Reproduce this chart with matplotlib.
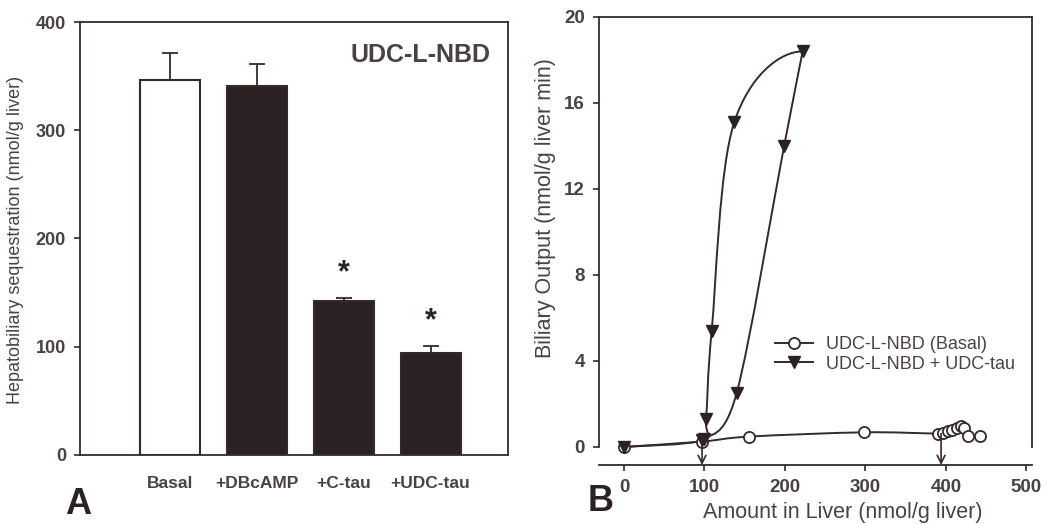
"""
Figura de dos paneles: secuestro hepatobiliar (A) y salida biliar (B)
"""

import numpy as np
import matplotlib
matplotlib.use('Agg')
import matplotlib.pyplot as plt
from matplotlib.path import Path
from matplotlib.patches import PathPatch
from matplotlib.lines import Line2D

plt.rcParams['font.family'] = ['Liberation Sans', 'DejaVu Sans']

# Panel A: barras
categorias = ['Basal', '+DBcAMP', '+C-tau', '+UDC-tau']
secuestro = [346, 341, 142, 94]
error_sec = [25, 20, 3, 7]
significativo = [False, False, True, True]

# Panel B: UDC-L-NBD basal (circulos abiertos)
amt_basal = [0, 97, 155, 298, 390, 396, 402, 408, 414, 419, 423, 427, 442]
out_basal = [0, 0.25, 0.48, 0.68, 0.62, 0.66, 0.72, 0.8, 0.9, 0.97, 0.9, 0.5, 0.5]

# Panel B: UDC-L-NBD + UDC-tau (triangulos), el bucle se parte en el maximo
amt_tau = [0, 97, 102, 109, 137, 222, 199, 140, 100]
out_tau = [0, 0.3, 1.3, 5.4, 15.1, 18.4, 14.0, 2.5, 0.35]

# flechas de inicio/fin de infusion
flechas_x = [97, 394]
flechas_y = [0.3, 0.62]

LINEA = '#342a2a'
TEXTO = '#4a4242'
OSCURO = '#2b2323'


def curva_suave(xs, ys, llegada_horizontal=False):
    """Path Catmull-Rom (como el spline de SigmaPlot) a traves de los puntos"""
    p = np.column_stack([xs, ys]).astype(float)
    ini = p[0]
    fin = p[-1]
    if llegada_horizontal:
        # punto fantasma para que la curva llegue plana al ultimo punto
        fin = np.array([2 * p[-1, 0] - p[-2, 0], p[-2, 1]])
    ext = np.vstack([ini, p, fin])
    verts = [p[0]]
    codes = [Path.MOVETO]
    for i in range(1, len(ext) - 2):
        p0, p1, p2, p3 = ext[i - 1], ext[i], ext[i + 1], ext[i + 2]
        verts += [p1 + (p2 - p0) / 6, p2 - (p3 - p1) / 6, p2]
        codes += [Path.CURVE4] * 3
    return Path(verts, codes)


def dibujar_curva(ax, xs, ys, **kw):
    ax.add_patch(PathPatch(curva_suave(xs, ys, **kw), fill=False, edgecolor=LINEA,
                           linewidth=1.4, zorder=2))


fig = plt.figure(figsize=(10.47, 5.24), dpi=100)

# ---------------- Panel A ----------------
ax_a = fig.add_axes([0.0764, 0.1317, 0.4088, 0.8263])
x = np.arange(len(categorias))
colores = ['white'] + [OSCURO] * (len(categorias) - 1)
ax_a.bar(x, secuestro, width=0.69, color=colores, edgecolor=LINEA, linewidth=1.5, zorder=2)
ax_a.errorbar(x, secuestro, yerr=[np.zeros(len(x)), error_sec], fmt='none',
              ecolor=LINEA, elinewidth=1.3, capsize=6, capthick=1.3, zorder=3)
for xi, v, e, sig in zip(x, secuestro, error_sec, significativo):
    if sig:
        ax_a.text(xi, v + e + 23, '*', ha='center', va='center', fontsize=22,
                  fontweight='bold', color=OSCURO)

ax_a.set_xlim(-1.03, 3.89)
ax_a.set_ylim(0, 400)
ax_a.set_yticks([0, 100, 200, 300, 400])
ax_a.set_xticks(x)
ax_a.set_xticklabels(categorias, fontsize=12.5, fontweight='bold', color=TEXTO)
ax_a.tick_params(axis='x', length=0, pad=15)
ax_a.tick_params(axis='y', direction='out', length=4, width=1.2, color=LINEA,
                 labelsize=13, labelcolor=TEXTO, pad=6)
for lbl in ax_a.get_yticklabels():
    lbl.set_fontweight('bold')
for s in ax_a.spines.values():
    s.set_color(LINEA)
    s.set_linewidth(1.3)
ax_a.set_ylabel('Hepatobiliary sequestration (nmol/g liver)', fontsize=13, color=TEXTO)
ax_a.yaxis.set_label_coords(-0.13, 0.497)
ax_a.text(0.958, 0.924, 'UDC-L-NBD', transform=ax_a.transAxes, ha='right', va='center',
          fontsize=18, fontweight='bold', color=TEXTO)

# ---------------- Panel B ----------------
ax_b = fig.add_axes([0.5721, 0.1126, 0.4136, 0.855])
dibujar_curva(ax_b, amt_basal, out_basal)
pico = int(np.argmax(out_tau))
dibujar_curva(ax_b, amt_tau[:pico + 1], out_tau[:pico + 1], llegada_horizontal=True)
dibujar_curva(ax_b, amt_tau[pico:], out_tau[pico:])

ax_b.plot(amt_basal, out_basal, linestyle='none', marker='o', markersize=8,
          markerfacecolor='white', markeredgecolor=LINEA, markeredgewidth=1.3, zorder=3)
ax_b.plot(amt_tau, out_tau, linestyle='none', marker='v', markersize=9,
          markerfacecolor=OSCURO, markeredgecolor=OSCURO, zorder=4)

for fx, fy in zip(flechas_x, flechas_y):
    ax_b.annotate('', xy=(fx, -0.84), xytext=(fx, fy),
                  arrowprops=dict(arrowstyle='->', color=LINEA, lw=1.2,
                                  mutation_scale=14, shrinkA=0, shrinkB=0), zorder=5)

ax_b.set_xlim(-31, 507)
ax_b.set_ylim(-0.84, 20)
ax_b.set_xticks([0, 100, 200, 300, 400, 500])
ax_b.set_yticks([0, 4, 8, 12, 16, 20])
ax_b.spines['left'].set_bounds(0, 20)
ax_b.spines['right'].set_bounds(0, 20)
for s in ax_b.spines.values():
    s.set_color(LINEA)
    s.set_linewidth(1.3)
ax_b.tick_params(direction='out', length=4, width=1.2, color=LINEA,
                 labelsize=13.5, labelcolor=TEXTO, pad=6)
for lbl in ax_b.get_xticklabels() + ax_b.get_yticklabels():
    lbl.set_fontweight('bold')
ax_b.set_xlabel('Amount in Liver (nmol/g liver)', fontsize=15.5, color=TEXTO)
ax_b.xaxis.set_label_coords(0.563, -0.083)
ax_b.set_ylabel('Biliary Output (nmol/g liver min)', fontsize=15.5, color=TEXTO)
ax_b.yaxis.set_label_coords(-0.1, 0.573)

handles = [
    Line2D([], [], color=LINEA, lw=1.4, marker='o', markersize=8,
           markerfacecolor='white', markeredgecolor=LINEA, markeredgewidth=1.3),
    Line2D([], [], color=LINEA, lw=1.4, marker='v', markersize=9,
           markerfacecolor=OSCURO, markeredgecolor=OSCURO),
]
ax_b.legend(handles, ['UDC-L-NBD (Basal)', 'UDC-L-NBD + UDC-tau'],
            loc='upper left', bbox_to_anchor=(0.39, 0.304), frameon=False,
            fontsize=13, handlelength=2.1, handletextpad=0.7, labelspacing=0.15,
            labelcolor=TEXTO, borderaxespad=0)

# letras de panel
fig.text(0.062, 0.004, 'A', fontsize=26, fontweight='bold', color=OSCURO, va='bottom')
fig.text(0.561, 0.009, 'B', fontsize=26, fontweight='bold', color=OSCURO, va='bottom')

plt.savefig('out.png', dpi=100)
plt.close()
